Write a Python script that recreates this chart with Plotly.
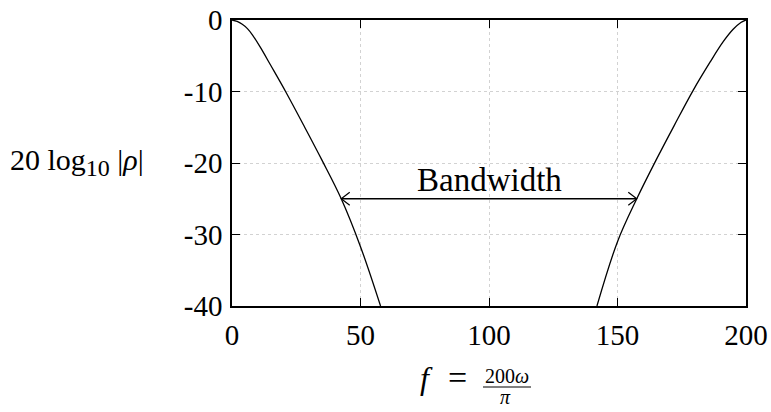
import plotly.graph_objects as go

# Reflection magnitude (dB) versus normalised frequency, the two skirts of the stop band
f_low = [0, 2, 4, 6, 8, 11, 15, 21, 28, 35, 42.5, 50, 57.8]
db_low = [0, -0.2, -0.6, -1.2, -2.1, -3.8, -6.3, -10.1, -14.8, -19.6, -25.0, -31.7, -40]
f_high = [142, 150, 157.5, 165, 172, 179.5, 186, 191, 195, 198, 200]
db_high = [-40, -31.0, -25.0, -19.6, -14.8, -9.8, -5.9, -3.1, -1.3, -0.35, 0]

# Bandwidth marker
bw_level = -25
bw_edges = [42.5, 157.5]
bw_label = "Bandwidth"

x_ticks = [0, 50, 100, 150, 200]
x_ticktext = ["0", "50", "100", "150", "200"]
y_ticks = [0, -10, -20, -30, -40]
y_ticktext = ["0", "-10", "-20", "-30", "-40"]

W, H = 771, 412
ML, MR, MT, MB = 232, 25, 20, 106
X_RANGE = [0, 200]
Y_RANGE = [-40, 0]
px_per_x = (W - ML - MR) / (X_RANGE[1] - X_RANGE[0])
px_per_y = (H - MT - MB) / (Y_RANGE[1] - Y_RANGE[0])

FONT = "Liberation Serif"
TEXT_DROP = 12  # annotation boxes sit high relative to the glyphs below the axis


def px_to_paper_x(px):
    return (px - ML) / (W - ML - MR)


def px_to_paper_y(py):
    return (H - MB - py) / (H - MT - MB)


def label(px, py, text, size, **kw):
    return dict(xref="paper", yref="paper", x=px_to_paper_x(px), y=px_to_paper_y(py), text=text,
                showarrow=False, font=dict(family=FONT, size=size, color="black"), **kw)


fig = go.Figure()
for fx, fy in ((f_low, db_low), (f_high, db_high)):
    fig.add_trace(go.Scatter(x=fx, y=fy, mode="lines",
                             line=dict(color="black", width=1.3, shape="spline", smoothing=1.0),
                             hoverinfo="skip", showlegend=False))

# double-headed arrow with open heads
head_dx = 8.5 / px_per_x
head_dy = 6.5 / px_per_y
x0, x1 = bw_edges
shapes = [dict(type="line", x0=x0, x1=x1, y0=bw_level, y1=bw_level, line=dict(color="black", width=1.3))]
shapes.append(dict(type="path", line=dict(color="black", width=1.2),
                   path=f"M {x0+head_dx},{bw_level+head_dy} L {x0},{bw_level} L {x0+head_dx},{bw_level-head_dy}"))
shapes.append(dict(type="path", line=dict(color="black", width=1.2),
                   path=f"M {x1-head_dx},{bw_level+head_dy} L {x1},{bw_level} L {x1-head_dx},{bw_level-head_dy}"))

annotations = [
    dict(x=(x0 + x1) / 2, y=bw_level, yshift=-1, text=bw_label, showarrow=False, yanchor="bottom",
         font=dict(family=FONT, size=33, color="black")),
    # y-axis title
    label(8, 162, "20 log<sub><span style='font-size:24px'>10</span></sub> |<i>ρ</i>|", 30, xanchor="left"),
    # x-axis title: f = 200ω / π
    label(426, 386 + TEXT_DROP, "<i>f</i>", 32),
    label(457, 386 + TEXT_DROP, "=", 34),
    label(507, 377 + TEXT_DROP, "200<i>ω</i>", 20),
    label(505, 398 + TEXT_DROP, "<i>π</i>", 20),
]
shapes.append(dict(type="line", xref="paper", yref="paper", x0=px_to_paper_x(483), x1=px_to_paper_x(531),
                   y0=px_to_paper_y(387), y1=px_to_paper_y(387), line=dict(color="black", width=1.2)))

axis_common = dict(showline=True, linecolor="black", linewidth=1.5, mirror="ticks", ticks="inside",
                   ticklen=8, tickcolor="black", tickwidth=1.2, showgrid=True, gridcolor="#d2d2d2",
                   griddash="dot", gridwidth=1, zeroline=False, automargin=False,
                   tickfont=dict(family=FONT, size=29, color="black"))

fig.update_layout(
    width=W, height=H, margin=dict(l=ML, r=MR, t=MT, b=MB, autoexpand=False),
    paper_bgcolor="white", plot_bgcolor="white",
    xaxis=dict(range=X_RANGE, tickvals=x_ticks, ticktext=x_ticktext, ticklabelstandoff=2, **axis_common),
    yaxis=dict(range=Y_RANGE, tickvals=y_ticks, ticktext=y_ticktext, ticklabelstandoff=2, **axis_common),
    shapes=shapes, annotations=annotations,
)

fig.write_html("out.html")
